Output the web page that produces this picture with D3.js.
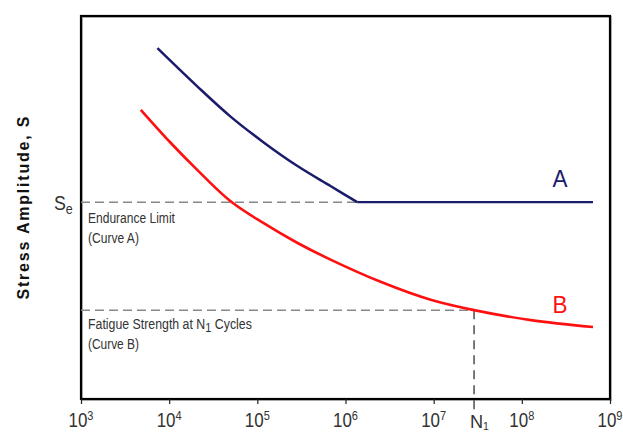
<!DOCTYPE html>
<html><head><meta charset="utf-8">
<script src="https://cdn.jsdelivr.net/npm/d3@7/dist/d3.min.js"></script>
<style>html,body{margin:0;padding:0;background:#fff;}svg{display:block;}</style>
</head><body>
<svg id="chart" width="623" height="432"></svg>
<script>
// ---- data ----
const tickExps = [3, 4, 5, 6, 7, 8, 9];
// Curve A (log10 N, stress)
const curveA_logN = [3.867, 4.315, 4.693, 5.072, 5.451, 5.830, 6.133, 8.807];
const curveA_S    = [91.6, 81.7, 73.8, 67.0, 60.9, 55.6, 51.4, 51.4];
// Curve B
const curveB_logN = [3.678, 4.0, 4.315, 4.693, 5.072, 5.451, 5.830, 6.398, 6.966, 7.458, 8.102, 8.807];
const curveB_S    = [75.5, 67.3, 59.9, 51.7, 45.9, 40.8, 36.4, 30.6, 25.9, 23.2, 20.6, 18.8];
const enduranceLimit = 51.4;       // Se
const kneeA_logN = 6.133;
const fatigueStrength = 23.2;      // at N1
const N1_logN = 7.458;
const yLabel = "Stress Amplitude, S";

// ---- layout ----
const svg = d3.select("#chart");
const L = 81, R = 610, T = 16, B = 399;
const x = d3.scaleLog().domain([1e3, 1e9]).range([L, R]);
const y = d3.scaleLinear().domain([0, 100]).range([B, T]);
const sans = "'Liberation Sans',Arial,sans-serif";

function fit(sel, px, py, w) {
  const n = sel.node();
  const nat = n.getBBox().width;
  const k = nat > 0 ? w / nat : 1;
  sel.attr("transform", `translate(${px},${py}) scale(${k},1)`);
}

// shadow + frame
svg.append("rect").attr("x", L + 1).attr("y", T + 1).attr("width", R - L).attr("height", B - T)
  .attr("fill", "none").attr("stroke", "#bbb").attr("stroke-width", 2);
svg.append("rect").attr("x", L).attr("y", T).attr("width", R - L).attr("height", B - T)
  .attr("fill", "none").attr("stroke", "#000").attr("stroke-width", 2.2);

// x axis ticks
const axis = d3.axisBottom(x).tickValues(tickExps.map(e => Math.pow(10, e))).tickSize(5).tickFormat("");
const gA = svg.append("g").attr("transform", `translate(0,${B})`).call(axis);
gA.select(".domain").remove();
gA.selectAll(".tick line").attr("stroke", "#222").attr("stroke-width", 1.2);
tickExps.forEach(e => {
  const tx = x(Math.pow(10, e));
  const t = svg.append("text").attr("font-family", sans).attr("font-size", 20).attr("fill", "#333");
  t.append("tspan").text("10");
  t.append("tspan").attr("dy", -7).attr("font-size", 13).text(String(e));
  fit(t, tx - 12.5, 427, 25);
});

// dashed reference lines
svg.append("line").attr("x1", L).attr("x2", x(Math.pow(10, kneeA_logN)))
  .attr("y1", y(enduranceLimit)).attr("y2", y(enduranceLimit))
  .attr("stroke", "#888").attr("stroke-width", 1.5).attr("stroke-dasharray", "9,5");
svg.append("line").attr("x1", L).attr("x2", x(Math.pow(10, N1_logN)))
  .attr("y1", y(fatigueStrength)).attr("y2", y(fatigueStrength))
  .attr("stroke", "#888").attr("stroke-width", 1.5).attr("stroke-dasharray", "9,5");
svg.append("line").attr("x1", x(Math.pow(10, N1_logN))).attr("x2", x(Math.pow(10, N1_logN)))
  .attr("y1", y(fatigueStrength)).attr("y2", 414)
  .attr("stroke", "#333").attr("stroke-width", 1.3).attr("stroke-dasharray", "9,6");

// curves
const line = d3.line().x(d => x(Math.pow(10, d[0]))).y(d => y(d[1])).curve(d3.curveCatmullRom.alpha(0.5));
const dataA = curveA_logN.map((v, i) => [v, curveA_S[i]]);
const dataB = curveB_logN.map((v, i) => [v, curveB_S[i]]);
svg.append("path").attr("d", line(dataA.slice(0, 7))).attr("fill", "none")
  .attr("stroke", "#1b1b6b").attr("stroke-width", 2.5);
svg.append("path").attr("d", d3.line().x(d => x(Math.pow(10, d[0]))).y(d => y(d[1]))(dataA.slice(6))).attr("fill", "none")
  .attr("stroke", "#1b1b6b").attr("stroke-width", 2.2);
svg.append("path").attr("d", line(dataB)).attr("fill", "none")
  .attr("stroke", "#ff1010").attr("stroke-width", 2.6);

// curve labels
svg.append("text").attr("x", 560).attr("y", 187).attr("text-anchor", "middle")
  .attr("font-family", sans).attr("font-size", 24)
  .attr("fill", "#1b1b6b").attr("textLength", 15).attr("lengthAdjust", "spacingAndGlyphs").text("A");
svg.append("text").attr("x", 560).attr("y", 313).attr("text-anchor", "middle")
  .attr("font-family", sans).attr("font-size", 24)
  .attr("fill", "#ff1010").attr("textLength", 15).attr("lengthAdjust", "spacingAndGlyphs").text("B");

// annotations
function ann(t, xx, yy, len) {
  const s = svg.append("text").attr("font-family", sans).attr("font-size", 14.5).attr("fill", "#333").text(t);
  fit(s, xx, yy, len);
}
ann("Endurance Limit", 88, 223, 87);
ann("(Curve A)", 88, 243, 51);
const fs = svg.append("text").attr("font-family", sans).attr("font-size", 14.5).attr("fill", "#333");
fs.append("tspan").text("Fatigue Strength at N");
fs.append("tspan").attr("dy", 3).attr("font-size", 13).text("1");
fs.append("tspan").attr("dy", -3).text(" Cycles");
fit(fs, 88, 329, 164);
ann("(Curve B)", 88, 349, 51);

// Se label
const se = svg.append("text").attr("font-family", sans).attr("font-size", 20).attr("fill", "#333");
se.append("tspan").text("S");
se.append("tspan").attr("dy", 4).attr("font-size", 14).text("e");
fit(se, 54, 210, 19);

// N1 label
const n1 = svg.append("text").attr("font-family", sans).attr("font-size", 19).attr("fill", "#333");
n1.append("tspan").text("N");
n1.append("tspan").attr("dy", 2).attr("font-size", 11).text("1");
fit(n1, 470, 428, 19);

// y label
svg.append("text").attr("transform", "translate(29,208) rotate(-90)").attr("text-anchor", "middle")
  .attr("font-family", sans).attr("font-weight", "bold").attr("font-size", 16)
  .attr("fill", "#111").attr("textLength", 183).attr("lengthAdjust", "spacing").text(yLabel);
</script>
</body></html>
